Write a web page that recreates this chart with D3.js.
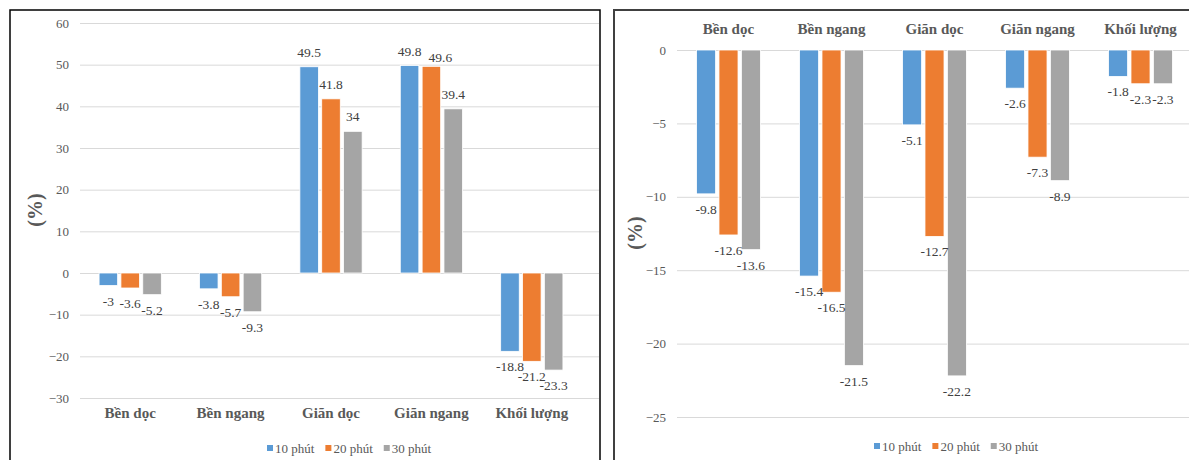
<!DOCTYPE html>
<html lang="vi">
<head>
  <meta charset="UTF-8">
  <title>Biến đổi tính chất (%)</title>
  <script src="https://d3js.org/d3.v7.min.js"></script>
  <style>
    body { margin: 0; background: #fff; }
  </style>
</head>
<body>
  <svg id="chart" width="1189" height="460"></svg>

  <script>
    // data
    const categories = ["Bền dọc", "Bền ngang", "Giãn dọc", "Giãn ngang", "Khối lượng"];
    const seriesNames = ["10 phút", "20 phút", "30 phút"];
    const colors = ["#5B9BD5", "#ED7D31", "#A5A5A5"];

    const left10 = [-3, -3.8, 49.5, 49.8, -18.8];
    const left20 = [-3.6, -5.7, 41.8, 49.6, -21.2];
    const left30 = [-5.2, -9.3, 34, 39.4, -23.3];
    const leftTicks = [60, 50, 40, 30, 20, 10, 0, -10, -20, -30];

    const right10 = [-9.8, -15.4, -5.1, -2.6, -1.8];
    const right20 = [-12.6, -16.5, -12.7, -7.3, -2.3];
    const right30 = [-13.6, -21.5, -22.2, -8.9, -2.3];
    const rightTicks = [0, -5, -10, -15, -20, -25];

    const FONT = "'Liberation Serif', 'DejaVu Serif', serif";

    const svg = d3.select("#chart").attr("font-family", FONT);

    // frames
    svg.append("rect")
      .attr("x", 10).attr("y", 10)
      .attr("width", 590).attr("height", 470)
      .attr("fill", "none")
      .attr("stroke", "#000")
      .attr("stroke-width", 1.5);

    svg.append("path")
      .attr("d", "M614,480 V10 H1200")
      .attr("fill", "none")
      .attr("stroke", "#404040")
      .attr("stroke-width", 2);

    function drawChart(opt) {
      const g = svg.append("g");

      const y = d3.scaleLinear().domain(opt.domain).range(opt.yRange);
      const x0 = d3.scaleBand().domain(categories).range(opt.xRange)
        .paddingInner(0.38).paddingOuter(0.19);
      const x1 = d3.scaleBand().domain(seriesNames).range([0, x0.bandwidth()])
        .paddingInner(0.15);

      // gridlines + tick labels
      const axis = d3.axisLeft(y)
        .tickValues(opt.ticks)
        .tickSize(-(opt.gridEnd - opt.xRange[0]))
        .tickPadding(10)
        .tickFormat(d3.format("d"));

      const ax = g.append("g")
        .attr("transform", `translate(${opt.xRange[0]},0)`)
        .call(axis)
        .attr("font-family", FONT);
      ax.select(".domain").remove();
      ax.selectAll(".tick line").attr("stroke", "#D9D9D9").attr("stroke-width", 1);
      ax.selectAll(".tick text")
        .attr("fill", "#595959")
        .attr("font-size", 13)
        .attr("x", -11);

      const rows = categories.map((c, i) => ({
        cat: c,
        vals: opt.series.map((s, j) => ({ name: seriesNames[j], v: s[i], color: colors[j], key: i + "-" + j }))
      }));

      const grp = g.selectAll(".grp")
        .data(rows)
        .join("g")
        .attr("transform", d => `translate(${x0(d.cat)},0)`);

      grp.selectAll("rect")
        .data(d => d.vals)
        .join("rect")
        .attr("x", d => x1(d.name))
        .attr("width", x1.bandwidth())
        .attr("y", d => y(Math.max(0, d.v)))
        .attr("height", d => Math.abs(y(d.v) - y(0)))
        .attr("fill", d => d.color)
        .attr("stroke", "#fff")
        .attr("stroke-width", 0.8);

      // Excel pushed a few labels aside to avoid overlaps
      const nudge = opt.nudge || {};
      grp.selectAll("text.lbl")
        .data(d => d.vals)
        .join("text")
        .attr("class", "lbl")
        .attr("x", d => x1(d.name) + x1.bandwidth() / 2 + (nudge[d.key] ? nudge[d.key][0] : 0))
        .attr("y", d => (d.v >= 0 ? y(d.v) - 10 : y(d.v) + 20) + (nudge[d.key] ? nudge[d.key][1] : 0))
        .attr("text-anchor", "middle")
        .attr("font-size", 13.5)
        .attr("fill", "#404040")
        .text(d => d.v);

      // category labels
      g.selectAll(".cat")
        .data(categories)
        .join("text")
        .attr("class", "cat")
        .attr("x", d => x0(d) + x0.bandwidth() / 2)
        .attr("y", opt.catY)
        .attr("text-anchor", "middle")
        .attr("font-size", 15)
        .attr("font-weight", "bold")
        .attr("fill", "#595959")
        .text(d => d);

      // y title
      g.append("text")
        .attr("transform", `translate(${opt.titleX},${opt.titleY}) rotate(-90)`)
        .attr("text-anchor", "middle")
        .attr("font-size", 20)
        .attr("font-weight", "bold")
        .attr("fill", "#595959")
        .text("(%)");

      // legend
      const leg = g.append("g").attr("transform", `translate(${opt.legendX},${opt.legendY})`);
      let lx = 0;
      seriesNames.forEach((s, i) => {
        leg.append("rect")
          .attr("x", lx).attr("y", -4)
          .attr("width", 6).attr("height", 6)
          .attr("fill", colors[i]);
        const t = leg.append("text")
          .attr("x", lx + 8).attr("y", 4)
          .attr("font-size", 13)
          .attr("fill", "#595959")
          .text(s);
        lx += 8 + t.node().getComputedTextLength() + 11;
      });
    }

    drawChart({
      series: [left10, left20, left30],
      domain: [-30, 60], yRange: [398, 23], ticks: leftTicks,
      xRange: [80, 582], gridEnd: 599,
      catY: 418, titleX: 42, titleY: 210,
      legendX: 267, legendY: 449,
      nudge: { "3-1": [9, 6] }
    });

    drawChart({
      series: [right10, right20, right30],
      domain: [-25, 0], yRange: [417, 50], ticks: rightTicks,
      xRange: [677, 1192], gridEnd: 1200,
      catY: 34, titleX: 642, titleY: 233,
      legendX: 874, legendY: 447
    });
  </script>
</body>
</html>
